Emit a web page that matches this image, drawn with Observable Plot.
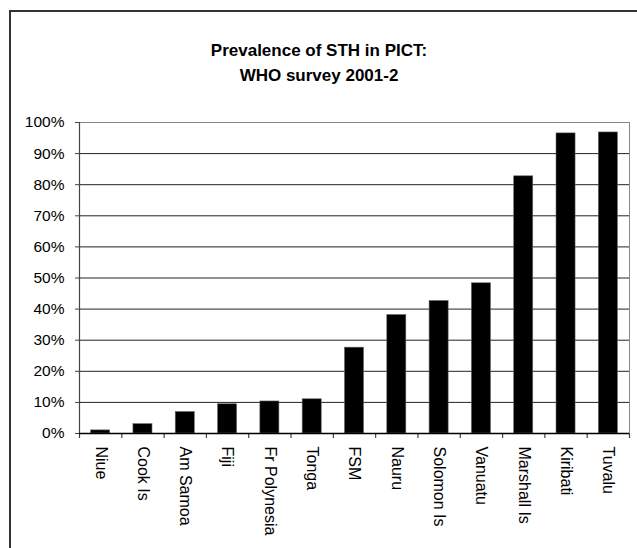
<!DOCTYPE html>
<html>
<head>
<meta charset="utf-8">
<script src="https://cdn.jsdelivr.net/npm/d3@7"></script>
<script src="https://cdn.jsdelivr.net/npm/@observablehq/plot@0.6"></script>
<style>
  html, body { margin: 0; padding: 0; background: #fff; overflow: hidden; }
  #wrap { position: relative; width: 637px; height: 548px; overflow: hidden; font-family: "Liberation Sans", Arial, sans-serif; }
  #frame { position: absolute; left: 9px; top: 10px; width: 700px; height: 700px; border: 2px solid #333; box-sizing: border-box; }
  #title { position: absolute; left: 0; top: 38px; width: 638px; text-align: center; font-weight: bold; font-size: 17px; line-height: 25px; color: #000; }
  #chart { position: absolute; left: 0; top: 0; }
</style>
</head>
<body>
<div id="wrap">
  <div id="frame"></div>
  <div id="title">Prevalence of STH in PICT:<br>WHO survey 2001-2</div>
  <div id="chart"></div>
</div>
<script>
const categories = ["Niue", "Cook Is", "Am Samoa", "Fiji", "Fr Polynesia", "Tonga", "FSM", "Nauru", "Solomon Is", "Vanuatu", "Marshall Is", "Kiribati", "Tuvalu"];
const prevalence = [0.010, 0.030, 0.069, 0.094, 0.103, 0.110, 0.276, 0.381, 0.426, 0.483, 0.827, 0.965, 0.968];
const yTicks = [0, 0.1, 0.2, 0.3, 0.4, 0.5, 0.6, 0.7, 0.8, 0.9, 1.0];

const data = categories.map((c, i) => ({name: c, value: prevalence[i], i}));
const n = categories.length;
const half = 0.225;

const plot = Plot.plot({
  width: 637,
  height: 548,
  marginLeft: 79,
  marginRight: 8,
  marginTop: 122,
  marginBottom: 115,
  style: {fontFamily: "'Liberation Sans', Arial, sans-serif", background: "transparent", color: "#000"},
  x: {domain: [0, n], axis: null},
  y: {domain: [0, 1], axis: null},
  marks: [
    Plot.ruleY(yTicks.filter(d => d > 0 && d < 1), {stroke: "#222", strokeWidth: 1}),
    Plot.ruleY([1], {stroke: "#888", strokeWidth: 1}),
    Plot.rectY(data, {x1: d => d.i + 0.5 - half, x2: d => d.i + 0.5 + half, y1: 0, y2: "value", fill: "#000", stroke: "#666", strokeWidth: 0.6}),
    Plot.ruleX([n], {stroke: "#888", strokeWidth: 1}),
    Plot.ruleX([0], {stroke: "#444", strokeWidth: 1.2}),
    Plot.axisX({ticks: d3.range(0, n + 1), tickFormat: () => "", tickSize: 5, stroke: "#444", strokeWidth: 1.2, anchor: "bottom"}),
    Plot.ruleY([0], {stroke: "#000", strokeWidth: 1.6}),
    Plot.axisY({ticks: yTicks, tickFormat: d3.format(".0%"), tickSize: 4, tickPadding: 11, fontSize: 15.5, stroke: "#444", anchor: "left", label: null}),
    Plot.text(data, {x: d => d.i + 0.5, y: 0, text: "name", rotate: 90, textAnchor: "start", dy: 13, fontSize: 16, fill: "#000"})
  ]
});
document.getElementById("chart").appendChild(plot);
</script>
</body>
</html>
